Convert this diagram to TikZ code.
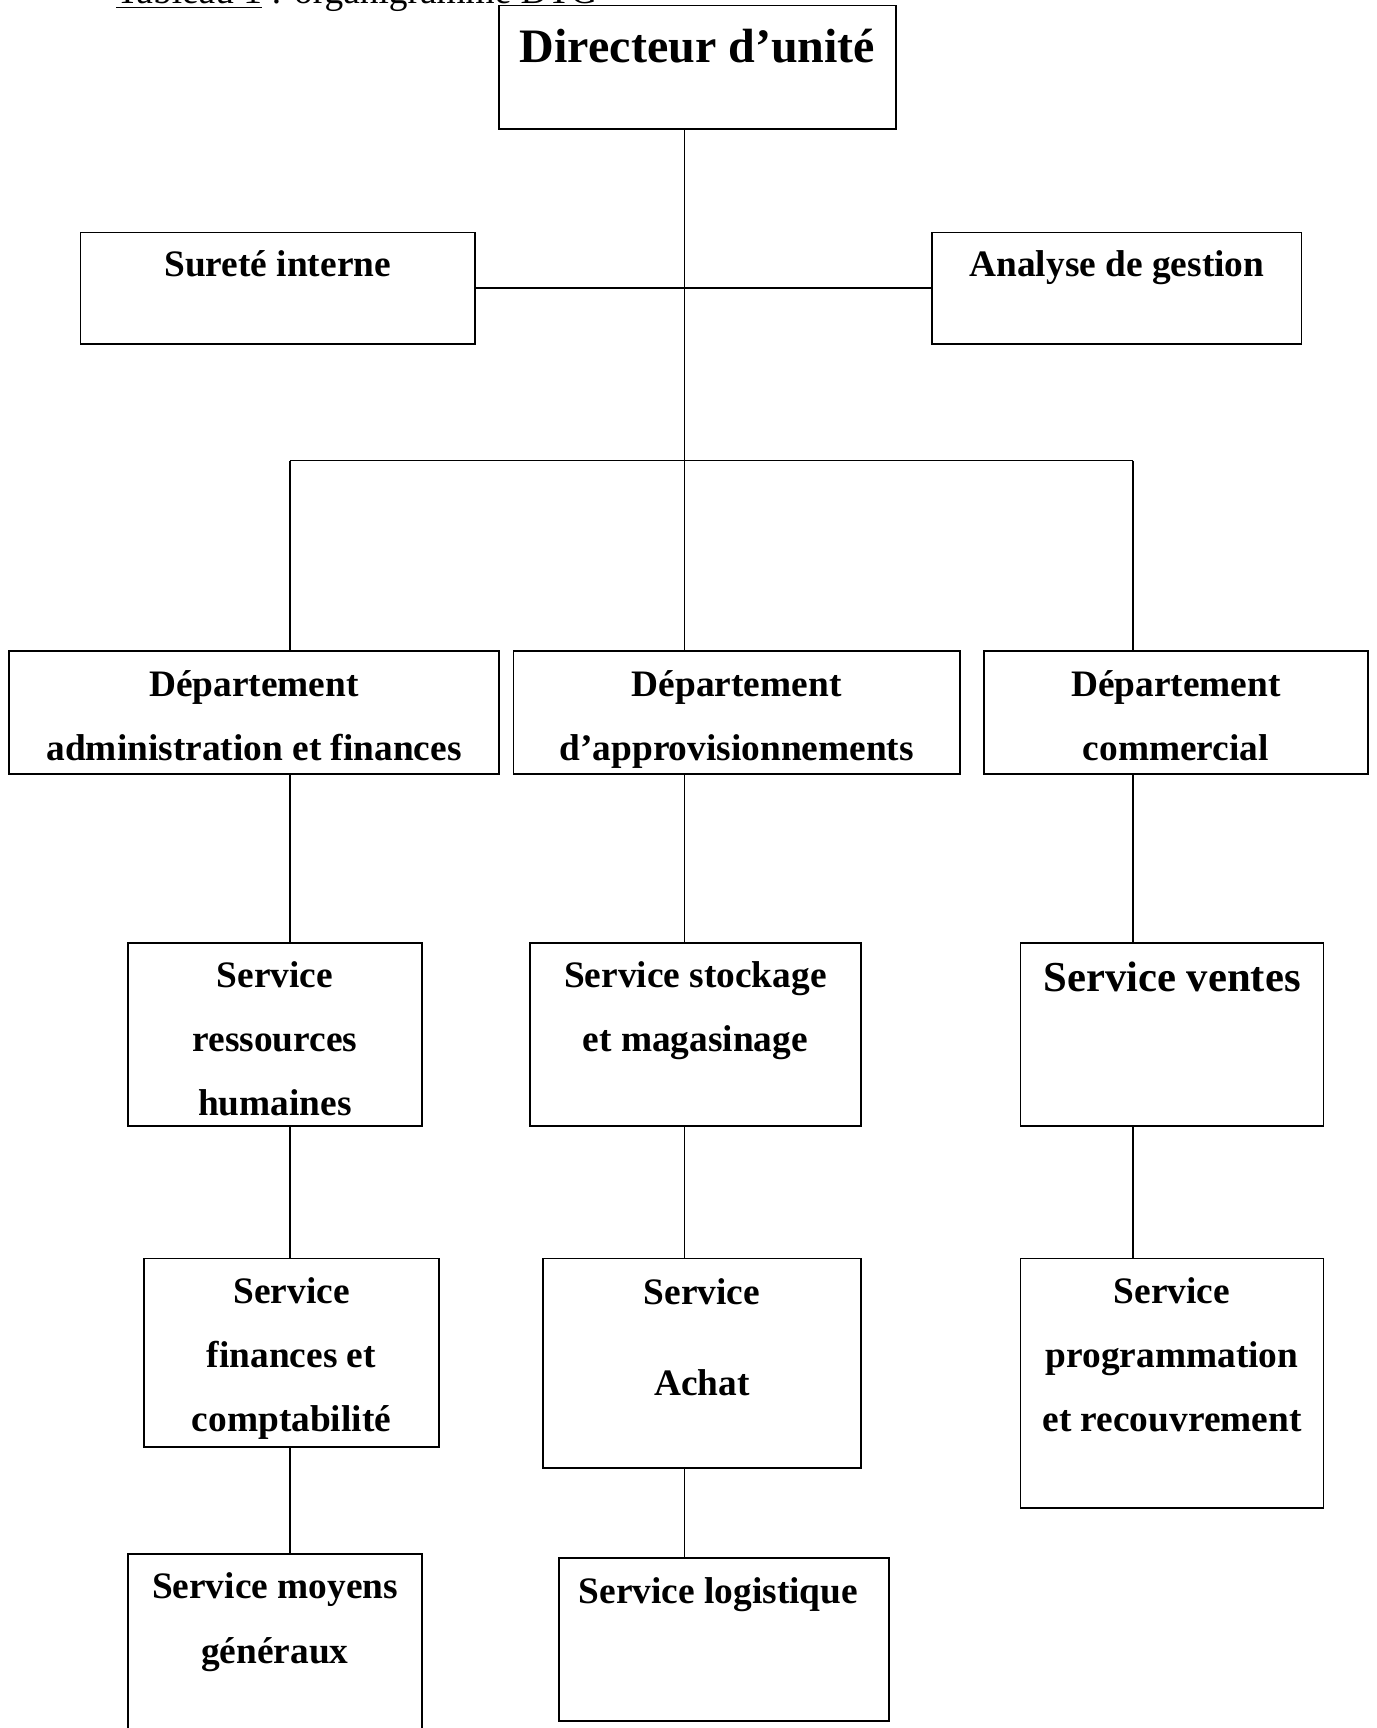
\documentclass[tikz,border=0pt]{standalone}
\usepackage{fontspec}
\setmainfont{Liberation Serif}

\newcommand{\pxu}{0.413pt}
\tikzset{
  box/.style={draw, line width=0.7pt, inner sep=0pt},
  link/.style={line width=0.6pt},
  lbl/.style={font=\fontsize{14}{24}\selectfont\bfseries, align=center, anchor=base, inner sep=0pt},
}

\begin{document}
\begin{tikzpicture}[x=\pxu, y=-\pxu]
  \useasboundingbox (0,0) rectangle (1249,1568);
  \node[anchor=base west, inner sep=0pt, font=\fontsize{14}{16}\selectfont] (cap) at (105,3) {\underline{Tableau 1} : organigramme DTG};
  % boxes
  \node[box, minimum width=360*\pxu, minimum height=112*\pxu] (dir) at (633,61) {};
  \node[box, minimum width=358*\pxu, minimum height=101*\pxu] (sur) at (252,261.5) {};
  \node[box, minimum width=335*\pxu, minimum height=101*\pxu] (ana) at (1013.5,261.5) {};
  \node[box, minimum width=445*\pxu, minimum height=111*\pxu] (daf) at (230.5,646.5) {};
  \node[box, minimum width=405*\pxu, minimum height=111*\pxu] (dapp) at (668.5,646.5) {};
  \node[box, minimum width=348*\pxu, minimum height=111*\pxu] (dcom) at (1067,646.5) {};
  \node[box, minimum width=267*\pxu, minimum height=166*\pxu] (srh) at (249.5,939) {};
  \node[box, minimum width=300*\pxu, minimum height=166*\pxu] (ssm) at (631,939) {};
  \node[box, minimum width=275*\pxu, minimum height=166*\pxu] (sven) at (1063.5,939) {};
  \node[box, minimum width=267*\pxu, minimum height=171*\pxu] (sfc) at (264.5,1227.5) {};
  \node[box, minimum width=288*\pxu, minimum height=190*\pxu] (sach) at (637,1237) {};
  \node[box, minimum width=275*\pxu, minimum height=226*\pxu] (spr) at (1063.5,1255) {};
  \node[box, minimum width=267*\pxu, minimum height=200*\pxu] (smg) at (249.5,1510) {};
  \node[box, minimum width=300*\pxu, minimum height=148*\pxu] (slog) at (657,1488) {};
  % texts (base = last line)
  \node[lbl, font=\fontsize{18}{24}\selectfont\bfseries] (dirT) at (633,57) {Directeur d’unité};
  \node[lbl] (surT) at (252,251) {Sureté interne};
  \node[lbl] (anaT) at (1013.5,251) {Analyse de gestion};
  \node[lbl] (dafT) at (230.5,690) {Département\\administration et finances};
  \begin{scope}
    \clip (dapp.north west) rectangle (dapp.south east);
    \node[lbl] (dappT) at (668.5,690) {Département\\d’approvisionnements};
  \end{scope}
  \node[lbl] (dcomT) at (1067,690) {Département\\commercial};
  \node[lbl] (srhT) at (249.5,1012) {Service\\ressources\\humaines};
  \node[lbl] (ssmT) at (631,954) {Service stockage\\et magasinage};
  \node[lbl, font=\fontsize{16}{24}\selectfont\bfseries] (svenT) at (1063.5,900) {Service ventes};
  \node[lbl] (sfcT) at (264.5,1299) {Service\\finances et\\comptabilité};
  \node[lbl] (sachT) at (637,1266) {Service\\[10pt]Achat};
  \node[lbl] (sprT) at (1063.5,1299) {Service\\programmation\\et recouvrement};
  \node[lbl] (smgT) at (249.5,1509) {Service moyens\\généraux};
  \node[lbl] (slogT) at (652,1455) {Service logistique};
  % links
  \coordinate (cL) at (263,418);
  \coordinate (cM) at (621,418);
  \coordinate (cR) at (1028,418);
  \draw[link] (dir.south -| cM) -- (cM);
  \draw[link] (sur.east) -- (ana.west);
  \draw[link] (cL) -- (cR);
  \draw[link] (cL) -- (daf.north -| cL);
  \draw[link] (cM) -- (dapp.north -| cM);
  \draw[link] (cR) -- (dcom.north -| cR);
  \draw[link] (daf.south -| cL) -- (srh.north -| cL);
  \draw[link] (srh.south -| cL) -- (sfc.north -| cL);
  \draw[link] (sfc.south -| cL) -- (smg.north -| cL);
  \draw[link] (dapp.south -| cM) -- (ssm.north -| cM);
  \draw[link] (ssm.south -| cM) -- (sach.north -| cM);
  \draw[link] (sach.south -| cM) -- (slog.north -| cM);
  \draw[link] (dcom.south -| cR) -- (sven.north -| cR);
  \draw[link] (sven.south -| cR) -- (spr.north -| cR);
\end{tikzpicture}
\end{document}
